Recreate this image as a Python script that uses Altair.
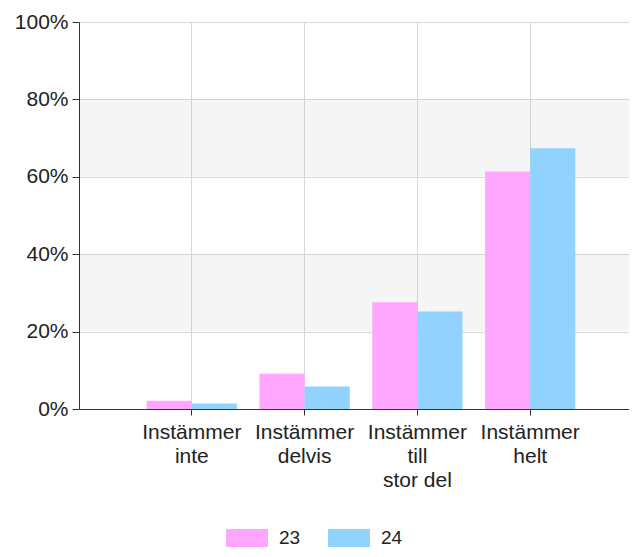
import altair as alt
import pandas as pd

categories = ["Instämmer\ninte", "Instämmer\ndelvis", "Instämmer\ntill\nstor del", "Instämmer\nhelt"]
years = ["23", "24"]
values_23 = [2.1, 9.1, 27.6, 61.4]
values_24 = [1.4, 5.8, 25.2, 67.4]
colors = ["#FFA6FF", "#91D2FE"]
y_ticks = [0, 0.2, 0.4, 0.6, 0.8, 1.0]
band_lo = [0.2, 0.6]
band_hi = [0.4, 0.8]

rows = []
for c, a, b in zip(categories, values_23, values_24):
    rows.append({"cat": c, "year": years[0], "v": a / 100})
    rows.append({"cat": c, "year": years[1], "v": b / 100})
df = pd.DataFrame(rows)
bands_df = pd.DataFrame({"lo": band_lo, "hi": band_hi})

FONT = "Liberation Sans"

bands = alt.Chart(bands_df).mark_rect(color="#000000", opacity=0.04).encode(
    y=alt.Y("lo:Q"),
    y2="hi:Q",
)

bars = alt.Chart(df).mark_bar().encode(
    x=alt.X(
        "cat:N",
        sort=categories,
        scale=alt.Scale(paddingInner=0.2, paddingOuter=0.6, range=[0, 564]),
        axis=alt.Axis(
            title=None,
            labelAngle=0,
            labelExpr="split(datum.label, '\\n')",
            labelLineHeight=24,
            labelFontSize=21,
            labelPadding=6,
            labelColor="#222222",
            labelFont=FONT,
            grid=True,
            bandPosition=0.5,
            tickSize=6,
            tickColor="#333333",
            domainColor="#333333",
            gridColor="#d9d9d9",
        ),
    ),
    xOffset=alt.XOffset("year:N", sort=years, scale=alt.Scale(paddingInner=0, paddingOuter=0)),
    y=alt.Y(
        "v:Q",
        scale=alt.Scale(domain=[0, 1], nice=False),
        axis=alt.Axis(
            title=None,
            format=".0%",
            values=y_ticks,
            labelFontSize=21,
            labelColor="#222222",
            labelFont=FONT,
            labelPadding=4,
            tickSize=7,
            tickColor="#333333",
            domainColor="#333333",
            gridColor="#d9d9d9",
        ),
    ),
    color=alt.Color(
        "year:N",
        sort=years,
        scale=alt.Scale(domain=years, range=colors),
        legend=alt.Legend(
            title=None,
            orient="none",
            direction="horizontal",
            legendX=147,
            legendY=495,
            symbolType="M-1,-0.43H1V0.43H-1Z",
            symbolSize=1764,
            symbolStrokeWidth=0,
            symbolOpacity=1,
            labelFontSize=19,
            labelFont=FONT,
            labelColor="#222222",
            labelOffset=11,
            columnPadding=27,
            padding=0,
        ),
    ),
)

chart = alt.layer(bands, bars).properties(
    width=550,
    height=387,
    autosize=alt.AutoSizeParams(type="none"),
    padding={"left": 71, "top": 14, "right": 0, "bottom": 140},
).configure_view(stroke=None)

chart.save("out.html", embed_options={"renderer": "svg", "actions": False})
